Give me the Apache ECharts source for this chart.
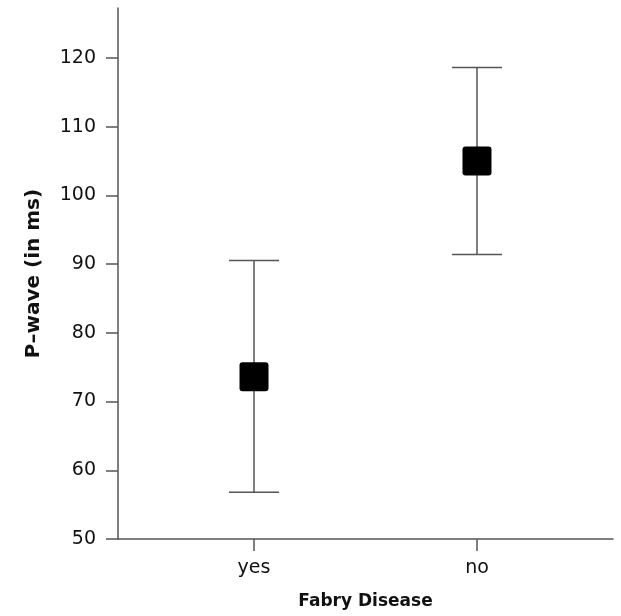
<!DOCTYPE html>
<html>
<head>
<meta charset="utf-8">
<script src="https://cdn.jsdelivr.net/npm/echarts@6/dist/echarts.min.js"></script>
<style>html,body{margin:0;padding:0;background:#fff;}#c{width:621px;height:616px;}</style>
</head>
<body>
<div id="c"></div>
<script>
const categories = ['yes', 'no'];
const means = [73.6, 105.0];
const lower = [56.8, 91.4];
const upper = [90.5, 118.6];
const yTicks = [50, 60, 70, 80, 90, 100, 110, 120];

const chart = echarts.init(document.getElementById('c'));
const FONT = 'DejaVu Sans';
const xPos = categories.map((c, i) => i + 1);

chart.setOption({
  animation: false,
  grid: { left: 118, right: 8, top: 8, bottom: 77 },
  xAxis: {
    type: 'value', min: 0.39, max: 2.61,
    name: 'Fabry Disease', nameLocation: 'middle', nameGap: 54,
    nameTextStyle: { fontFamily: FONT, fontSize: 17, fontWeight: 'bold', color: '#111' },
    axisLine: { show: true, lineStyle: { color: '#555', width: 1.5 } },
    axisTick: { show: true, customValues: xPos, length: 12, lineStyle: { color: '#555', width: 1.5 } },
    axisLabel: { customValues: xPos, formatter: v => categories[Math.round(v) - 1] || '', margin: 20,
      fontFamily: FONT, fontSize: 19, color: '#111' },
    splitLine: { show: false }
  },
  yAxis: {
    type: 'value', min: 50, max: 127.25,
    name: 'P\u2013wave (in ms)', nameLocation: 'middle', nameGap: 74, nameRotate: 90,
    nameTextStyle: { fontFamily: FONT, fontSize: 20, fontWeight: 'bold', color: '#111' },
    axisLine: { show: true, lineStyle: { color: '#555', width: 1.5 } },
    axisTick: { show: true, customValues: yTicks, length: 12, lineStyle: { color: '#555', width: 1.5 } },
    axisLabel: { customValues: yTicks, margin: 22, fontFamily: FONT, fontSize: 19, color: '#111' },
    splitLine: { show: false }
  },
  series: [
    {
      type: 'custom',
      data: xPos.map((x, i) => [x, lower[i], upper[i]]),
      renderItem: function (params, api) {
        const x = api.value(0);
        const lo = api.coord([x, api.value(1)]);
        const hi = api.coord([x, api.value(2)]);
        const hw = 25;
        const style = { stroke: '#555', lineWidth: 1.5 };
        return {
          type: 'group',
          children: [
            { type: 'line', shape: { x1: lo[0], y1: lo[1], x2: hi[0], y2: hi[1] }, style },
            { type: 'line', shape: { x1: hi[0] - hw, y1: hi[1], x2: hi[0] + hw, y2: hi[1] }, style },
            { type: 'line', shape: { x1: lo[0] - hw, y1: lo[1], x2: lo[0] + hw, y2: lo[1] }, style }
          ]
        };
      }
    },
    {
      type: 'custom',
      z: 5,
      data: xPos.map((x, i) => [x, means[i]]),
      renderItem: function (params, api) {
        const p = api.coord([api.value(0), api.value(1)]);
        const s = 29;
        return {
          type: 'rect',
          shape: { x: p[0] - s / 2, y: p[1] - s / 2, width: s, height: s, r: 3 },
          style: { fill: '#000' }
        };
      }
    }
  ]
});
</script>
</body>
</html>
